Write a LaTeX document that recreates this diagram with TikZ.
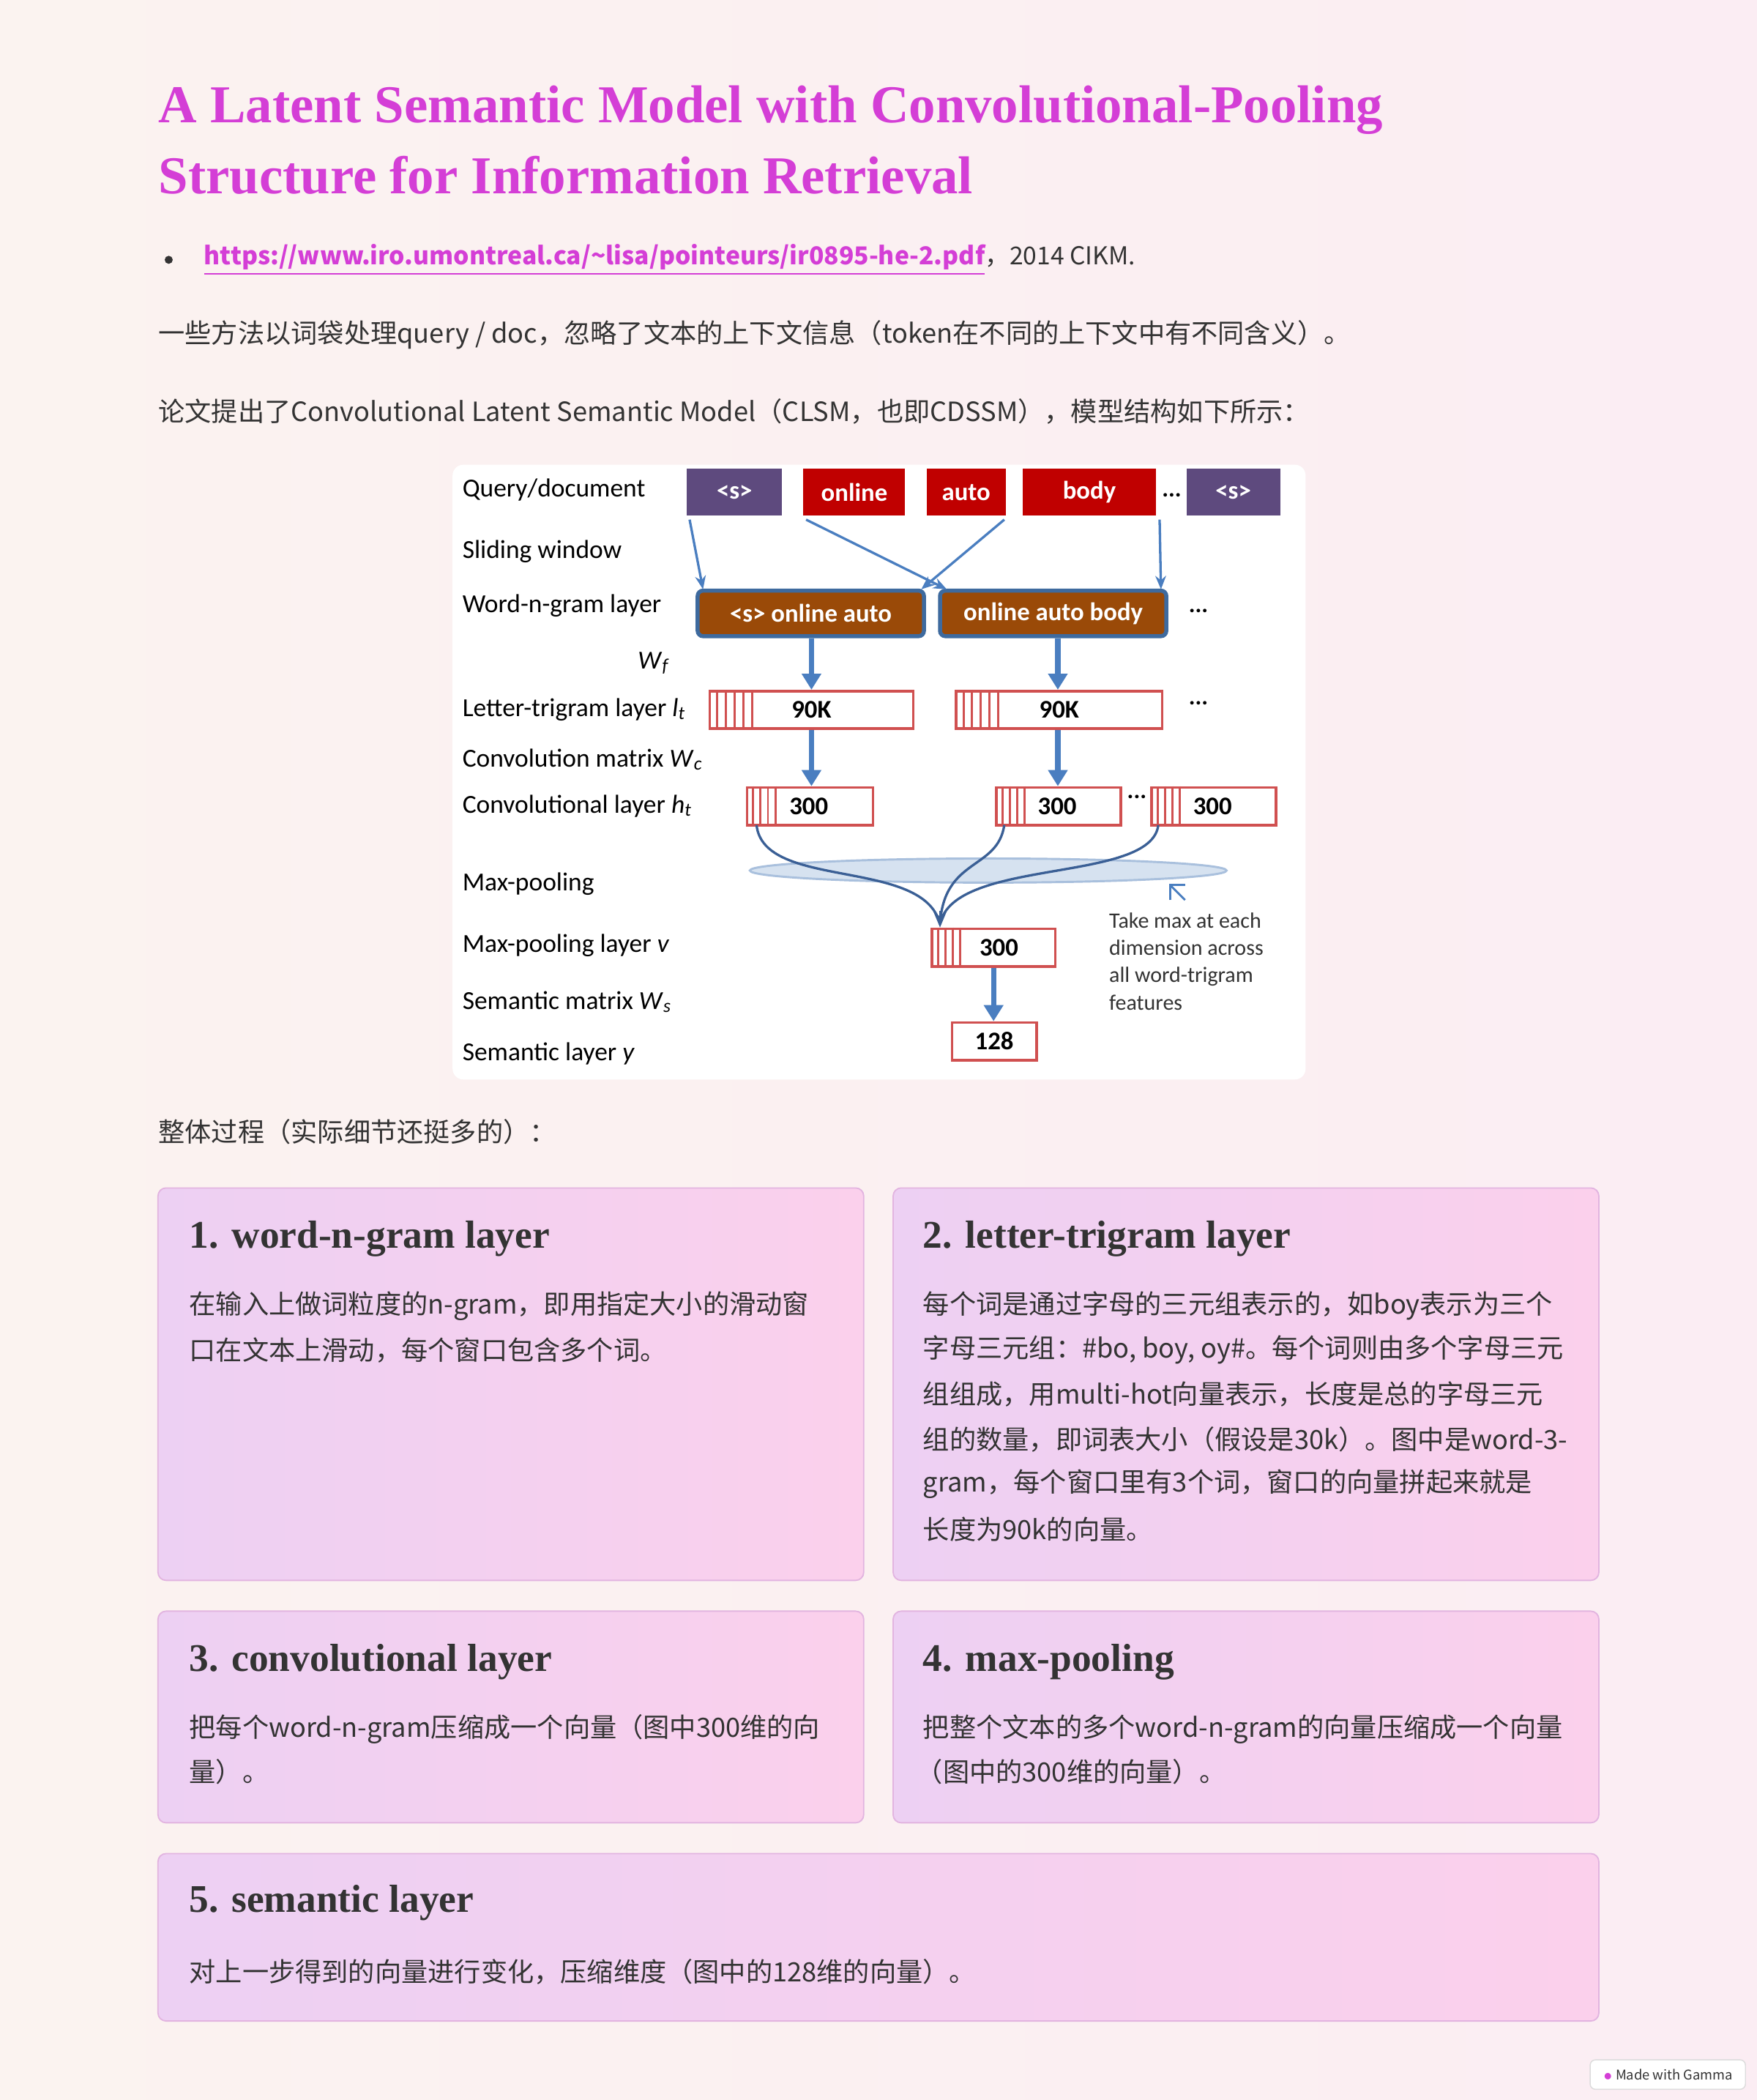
\documentclass[tikz,border=0pt]{standalone}
\usepackage{fontspec}
\setmainfont{Noto Sans CJK SC}
\newfontfamily\ttlfont{Liberation Serif}
\newfontfamily\calfont{Carlito}
\usetikzlibrary{arrows.meta,shapes.geometric,calc}
\definecolor{mag}{HTML}{D43ED6}
\definecolor{txt}{HTML}{333333}
\definecolor{pur}{HTML}{5E4A7E}
\definecolor{rd}{HTML}{C00000}
\definecolor{brn}{HTML}{9A4A08}
\definecolor{bbd}{HTML}{3E6A9E}
\definecolor{arr}{HTML}{4A7EC0}
\definecolor{dk}{HTML}{3A5F95}
\definecolor{boxr}{HTML}{D05050}
\definecolor{cardb}{HTML}{E2B4E0}
\definecolor{cardL}{HTML}{EDD0F3}
\definecolor{cardR}{HTML}{FBD0EC}
\newcommand{\mv}[2]{\textit{#1}\raisebox{-0.25ex}{\scriptsize\textit{#2}}}
\tikzset{
 lab/.style={anchor=west,font=\calfont\fontsize{9.7}{10}\selectfont,inner sep=0},
 tok/.style={minimum height=17.5pt,font=\calfont\bfseries\fontsize{9.5}{10}\selectfont,text=white,inner sep=0},
 ngram/.style={fill=brn,draw=bbd,line width=1.5pt,rounded corners=2pt,minimum height=17pt,minimum width=84.5pt,font=\calfont\bfseries\fontsize{9.5}{10}\selectfont,text=white,inner sep=0},
 vec/.style={draw=boxr,line width=1pt,fill=white,font=\calfont\bfseries\fontsize{9.5}{10}\selectfont,inner sep=0,minimum height=14pt},
 thin/.style={arr,line width=0.9pt,-{Stealth[length=5pt,width=4pt]}},
 thick/.style={arr,line width=2pt,-{Triangle[length=6pt,width=7pt]}},
 curv/.style={dk,line width=0.9pt},
 body/.style={anchor=west,font=\fontsize{9.9}{10}\selectfont,text=txt,inner sep=0},
 head/.style={anchor=west,font=\ttlfont\bfseries\fontsize{14.6}{16}\selectfont,text=txt,inner sep=0},
 card/.style={draw=cardb,line width=0.5pt,rounded corners=3pt,left color=cardL,right color=cardR}
}
\newcommand{\strp}[3]{\foreach \k in {1,...,#3}{\draw[boxr,line width=0.8pt] ($(#1.north west)+(#2*\k,0)$) -- ($(#1.south west)+(#2*\k,0)$);}}
\begin{document}
\begin{tikzpicture}[x=0.5pt,y=-0.5pt]
\useasboundingbox (0,0) rectangle (1312,1568);
\shade[left color={rgb,255:red,251;green,243;blue,240},right color={rgb,255:red,251;green,237;blue,243}] (0,0) rectangle (1312,1568);
% title
\node[anchor=west,inner sep=0,font=\ttlfont\bfseries\fontsize{19.9}{20}\selectfont,text=mag] (t1) at (118,82) {A Latent Semantic Model with Convolutional-Pooling};
\node[anchor=west,inner sep=0,font=\ttlfont\bfseries\fontsize{19.9}{20}\selectfont,text=mag] (t2) at (118,131) {Structure for Information Retrieval};
\fill[txt] (126,194) circle (3);
\node[body] (l1) at (152,194) {\textcolor{mag}{\fontsize{9.2}{10}\selectfont\bfseries\underline{https://www.iro.umontreal.ca/\textasciitilde lisa/pointeurs/ir0895-he-2.pdf}}\fontsize{9.2}{10}\selectfont，2014 CIKM.};
\node[body] (l2) at (118,250) {一些方法以词袋处理query / doc，忽略了文本的上下文信息（token在不同的上下文中有不同含义）。};
\node[body] (l3) at (118,307) {论文提出了Convolutional Latent Semantic Model（CLSM，也即CDSSM），模型结构如下所示：};
% diagram
\fill[white,rounded corners=4pt] (338,347) rectangle (975,806);
\node[lab] (a1) at (345,366) {Query/document};
\node[lab] (a2) at (345,412) {Sliding window};
\node[lab] (a3) at (345,452) {Word-n-gram layer};
\node[lab] (a4) at (476,495) {\mv{W}{f}};
\node[lab] (a5) at (345,530) {Letter-trigram layer \mv{l}{t}};
\node[lab] (a6) at (345,567) {Convolution matrix \mv{W}{c}};
\node[lab] (a7) at (345,602) {Convolutional layer \mv{h}{t}};
\node[lab] (a8) at (345,660) {Max-pooling};
\node[lab] (a9) at (345,706) {Max-pooling layer \textit{v}};
\node[lab] (a10) at (345,748) {Semantic matrix \mv{W}{s}};
\node[lab] (a11) at (345,787) {Semantic layer \textit{y}};
\node[tok,fill=pur,minimum width=35.5pt] (s1) at (548.5,367.5) {<s>};
\node[tok,fill=rd,minimum width=38pt] (on) at (638,367.5) {online};
\node[tok,fill=rd,minimum width=29.5pt] (au) at (721.5,367.5) {auto};
\node[tok,fill=rd,minimum width=49.5pt] (bo) at (813.5,367.5) {body};
\node[inner sep=0,font=\calfont\bfseries\fontsize{9}{10}\selectfont] (d0) at (875,370) {...};
\node[tok,fill=pur,minimum width=35pt] (s2) at (921,367.5) {<s>};
\node[ngram] (g1) at (605.5,458) {<s> online auto};
\node[ngram] (g2) at (786.5,458) {online auto body};
\node[inner sep=0,font=\calfont\bfseries\fontsize{9}{10}\selectfont] (d1) at (895,456) {...};
\coordinate (c1) at (515,388); \coordinate (e1) at (525,440);
\coordinate (o1) at (602,388); \coordinate (o2) at (707,440);
\coordinate (u1) at (750,388); \coordinate (u2) at (688,440);
\coordinate (b1) at (866,388); \coordinate (b2) at (867,440);
\draw[thin] (c1) -- (e1);
\draw[thin] (o1) -- (o2);
\draw[thin] (u1) -- (u2);
\draw[thin] (b1) -- (b2);
\node[vec,minimum width=76pt] (v1) at (606,530) {\hspace*{0pt}90K};
\node[vec,minimum width=77pt] (v2) at (791,530) {\hspace*{0pt}90K};
\strp{v1}{6.5}{5}\strp{v2}{6.5}{5}
\node[inner sep=0,font=\calfont\bfseries\fontsize{9}{10}\selectfont] (d2) at (895,525) {...};
\draw[thick] (g1.south -| 606,0) -- (v1.north -| 606,0);
\draw[thick] (g2.south -| 790,0) -- (v2.north -| 790,0);
\node[vec,minimum width=47pt] (h1) at (605,602) {\hspace*{-1pt}300};
\node[vec,minimum width=46.5pt] (h2) at (790.5,602) {\hspace*{-1pt}300};
\node[vec,minimum width=46.5pt] (h3) at (906.5,602) {\hspace*{-1pt}300};
\strp{h1}{5.5}{4}\strp{h2}{5.5}{4}\strp{h3}{5.5}{4}
\node[inner sep=0,font=\calfont\bfseries\fontsize{9}{10}\selectfont] (d3) at (849,595) {...};
\draw[thick] (v1.south -| 606,0) -- (h1.north -| 606,0);
\draw[thick] (v2.south -| 790,0) -- (h2.north -| 790,0);
\node[ellipse,fill={rgb,255:red,214;green,226;blue,240},draw={rgb,255:red,169;green,192;blue,221},line width=0.8pt,minimum width=178pt,minimum height=9pt,inner sep=0] (el) at (738,650) {};
\node[vec,minimum width=46pt] (p) at (742,707.5) {\hspace*{4pt}300};
\strp{p}{5.5}{4}
\draw[curv] (565,616) .. controls (570,665) and (690,640) .. (702,690);
\draw[curv] (750,616) .. controls (745,650) and (705,640) .. (702,690);
\draw[curv] (865,616) .. controls (860,660) and (712,640) .. (702,690);
\draw[dk,-{Stealth[length=6pt,width=5pt]}] (702,680) -- (p.north -| 702,0);
\node[vec,minimum width=31.5pt] (y) at (742.5,777.5) {128};
\draw[thick] (p.south -| 742,0) -- (y.north -| 742,0);
\coordinate (q1) at (885,672); \coordinate (q2) at (873,660);
\draw[arr,line width=0.8pt,-{Straight Barb[length=4pt]}] (q1) -- (q2);
\node[anchor=north west,align=left,inner sep=0,font=\calfont\fontsize{8.2}{10.2}\selectfont,text=txt] (note) at (828,681) {Take max at each\\dimension across\\all word-trigram\\features};
\node[body] (l4) at (118,845) {整体过程（实际细节还挺多的）：};
% cards
\path[card] (118,887) rectangle (645,1180);
\path[card] (667,887) rectangle (1194,1180);
\path[card] (118,1203) rectangle (645,1361);
\path[card] (667,1203) rectangle (1194,1361);
\path[card] (118,1384) rectangle (1194,1509);
\node[head] (h1t) at (141,925) {1. word-n-gram layer};
\node[body] at (141,975) {在输入上做词粒度的n-gram，即用指定大小的滑动窗};
\node[body] at (141,1008) {口在文本上滑动，每个窗口包含多个词。};
\node[head] (h2t) at (689,925) {2. letter-trigram layer};
\node[body] at (689,975) {每个词是通过字母的三元组表示的，如boy表示为三个};
\node[body] at (689,1008) {字母三元组：\#bo, boy, oy\#。每个词则由多个字母三元};
\node[body] at (689,1041) {组组成，用multi-hot向量表示，长度是总的字母三元};
\node[body] at (689,1075) {组的数量，即词表大小（假设是30k）。图中是word-3-};
\node[body] at (689,1108) {gram，每个窗口里有3个词，窗口的向量拼起来就是};
\node[body] at (689,1142) {长度为90k的向量。};
\node[head] (h3t) at (141,1241) {3. convolutional layer};
\node[body] at (141,1291) {把每个word-n-gram压缩成一个向量（图中300维的向};
\node[body] at (141,1323) {量）。};
\node[head] (h4t) at (689,1241) {4. max-pooling};
\node[body] at (689,1291) {把整个文本的多个word-n-gram的向量压缩成一个向量};
\node[body] at (684,1323) {（图中的300维的向量）。};
\node[head] (h5t) at (141,1421) {5. semantic layer};
\node[body] at (141,1472) {对上一步得到的向量进行变化，压缩维度（图中的128维的向量）。};
\node[draw={rgb,255:red,220;green,220;blue,220},fill=white,rounded corners=2pt,minimum width=58pt,minimum height=11pt,inner sep=0,font=\fontsize{5}{6}\selectfont,text=txt] (badge) at (1245.5,1549) {\textcolor{mag}{$\bullet$}\ Made with Gamma};
\end{tikzpicture}
\end{document}
